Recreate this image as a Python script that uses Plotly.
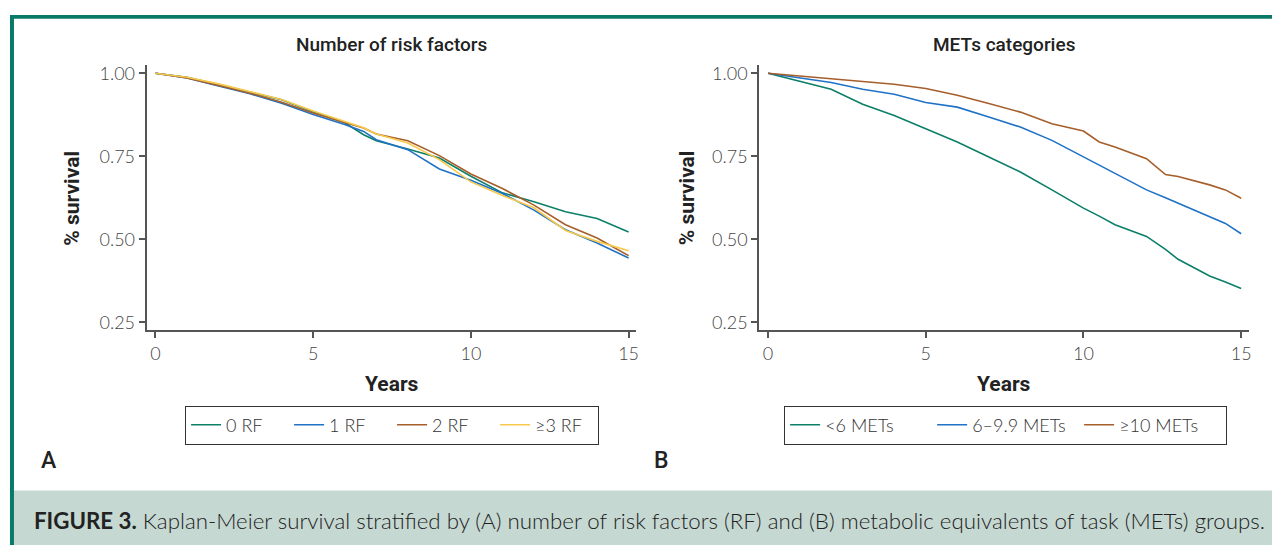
import plotly.graph_objects as go

# ---------------- data ----------------
years = [0, 1, 2, 3, 4, 5, 6, 6.6, 7, 8, 9, 10, 11, 12, 13, 14, 15]

rf_labels = ["0 RF", "1 RF", "2 RF", "≥3 RF"]
rf0 = [1.000, 0.988, 0.966, 0.944, 0.920, 0.884, 0.851, 0.815, 0.797, 0.772, 0.745, 0.690, 0.640, 0.613, 0.583, 0.563, 0.522]
rf1 = [1.000, 0.986, 0.962, 0.938, 0.910, 0.876, 0.846, 0.825, 0.800, 0.770, 0.712, 0.678, 0.638, 0.588, 0.529, 0.489, 0.444]
rf2 = [1.000, 0.986, 0.963, 0.940, 0.913, 0.880, 0.852, 0.835, 0.817, 0.797, 0.752, 0.697, 0.653, 0.603, 0.544, 0.504, 0.451]
rf3 = [1.000, 0.988, 0.968, 0.945, 0.921, 0.886, 0.856, 0.836, 0.817, 0.790, 0.740, 0.673, 0.632, 0.595, 0.527, 0.494, 0.466]

met_years = [0, 1, 2, 3, 4, 5, 6, 7, 8, 9, 10, 10.5, 11, 12, 12.6, 13, 14, 14.5, 15]
met_labels = ["<6 METs", "6–9.9 METs", "≥10 METs"]
met_low = [1.000, 0.977, 0.952, 0.907, 0.873, 0.833, 0.793, 0.748, 0.703, 0.649, 0.594, 0.570, 0.544, 0.509, 0.470, 0.440, 0.390, 0.372, 0.352]
met_mid = [1.000, 0.987, 0.972, 0.952, 0.937, 0.912, 0.898, 0.868, 0.838, 0.798, 0.748, 0.724, 0.699, 0.649, 0.625, 0.609, 0.569, 0.548, 0.517]
met_high = [1.000, 0.992, 0.984, 0.977, 0.967, 0.954, 0.934, 0.909, 0.883, 0.848, 0.826, 0.793, 0.778, 0.743, 0.695, 0.689, 0.664, 0.649, 0.624]

x_ticks = [0, 5, 10, 15]
y_ticks = [0.25, 0.50, 0.75, 1.00]
y_tick_text = ["0.25", "0.50", "0.75", "1.00"]

panel_titles = ["Number of risk factors", "METs categories"]
caption = ("<b>FIGURE 3.</b> Kaplan-Meier survival stratified by (A) number of risk factors (RF) "
           "and (B) metabolic equivalents of task (METs) groups.")

# ---------------- styling ----------------
W, H = 1275, 547
GREEN = "#0c7f68"
BLUE = "#1f72c6"
BROWN = "#a65e2b"
YELLOW = "#f8c94a"
TEAL_FRAME = "#087a67"
AXIS = "#555555"
TXT = "#222222"


def px(x):
    return x / W


def py(y):
    return 1 - y / H


fig = go.Figure()

for lab, vals, col in zip(rf_labels, [rf0, rf1, rf2, rf3], [GREEN, BLUE, BROWN, YELLOW]):
    fig.add_trace(go.Scatter(x=years, y=vals, mode="lines", name=lab,
                             line=dict(color=col, width=1.6),
                             xaxis="x", yaxis="y", legend="legend"))

for lab, vals, col in zip(met_labels, [met_low, met_mid, met_high], [GREEN, BLUE, BROWN]):
    fig.add_trace(go.Scatter(x=met_years, y=vals, mode="lines", name=lab,
                             line=dict(color=col, width=1.6),
                             xaxis="x2", yaxis="y2", legend="legend2"))

tickfont = dict(family="Lato", size=18, color="#444444", weight=300)
common_x = dict(range=[-0.28, 15.25], tickvals=x_ticks, showline=True, linecolor=AXIS,
                linewidth=2, ticks="outside", ticklen=6, tickwidth=1.5, tickcolor=AXIS,
                showgrid=False, zeroline=False, tickfont=tickfont, fixedrange=True)
common_y = dict(range=[0.2262, 1.0238], tickvals=y_ticks, ticktext=y_tick_text, showline=True,
                linecolor=AXIS, linewidth=2, ticks="outside", ticklen=6, tickwidth=1.5,
                tickcolor=AXIS, showgrid=False, zeroline=False, tickfont=tickfont,
                fixedrange=True)

legfont = dict(family="Lato", size=18, color="#333333", weight=300)
ydom = [py(330), py(62)]
fig.update_layout(
    width=W, height=H, autosize=False,
    margin=dict(l=0, r=0, t=0, b=0),
    paper_bgcolor="white", plot_bgcolor="white",
    xaxis=dict(domain=[px(147), px(638)], anchor="y", **common_x),
    yaxis=dict(domain=ydom, anchor="x", **common_y),
    xaxis2=dict(domain=[px(761), px(1252)], anchor="y2", **common_x),
    yaxis2=dict(domain=ydom, anchor="x2", **common_y),
    legend=dict(orientation="h", x=px(393), y=py(406), xanchor="center", yanchor="top",
                bordercolor="#333333", borderwidth=1, font=legfont, entrywidth=58,
                bgcolor="white", itemclick=False, itemdoubleclick=False),
    legend2=dict(orientation="h", x=px(1008), y=py(406), xanchor="center", yanchor="top",
                 bordercolor="#333333", borderwidth=1, font=legfont, entrywidth=102,
                 bgcolor="white", itemclick=False, itemdoubleclick=False),
    showlegend=True,
)

shapes = [
    dict(type="rect", xref="paper", yref="paper", x0=px(12), x1=1, y0=0, y1=py(492),
         fillcolor="#c6d8d2", line=dict(width=0), layer="below"),
    dict(type="rect", xref="paper", yref="paper", x0=px(10), x1=1, y0=py(15), y1=py(11),
         fillcolor=TEAL_FRAME, line=dict(width=0)),
    dict(type="rect", xref="paper", yref="paper", x0=px(10), x1=px(14), y0=0, y1=py(11),
         fillcolor=TEAL_FRAME, line=dict(width=0)),
]
fig.update_layout(shapes=shapes)

title_font = dict(family="Roboto", size=19, color=TXT, weight=500)
axis_title_font = dict(family="Roboto", size=21, color=TXT, weight="bold")
ann = []
for cx, t in zip([392.5, 1006.5], panel_titles):
    ann.append(dict(text=t, x=px(cx), y=py(41), xref="paper", yref="paper",
                    showarrow=False, font=title_font, xanchor="center", yanchor="middle"))
    ann.append(dict(text="Years", x=px(cx), y=py(384), xref="paper", yref="paper",
                    showarrow=False, font=axis_title_font, xanchor="center", yanchor="middle"))
for sx in [72, 688]:
    ann.append(dict(text="% survival", x=px(sx), y=py(196), xref="paper", yref="paper",
                    showarrow=False, font=axis_title_font, textangle=-90,
                    xanchor="center", yanchor="middle"))
for lx, lab in [(49, "A"), (663, "B")]:
    ann.append(dict(text=lab, x=px(lx), y=py(462), xref="paper", yref="paper",
                    showarrow=False, font=dict(family="Roboto", size=23, color=TXT, weight=500),
                    xanchor="center", yanchor="middle"))
ann.append(dict(text=caption, x=px(32), y=py(522), xref="paper", yref="paper",
                showarrow=False, font=dict(family="Lato", size=22.3, color=TXT, weight=300),
                xanchor="left", yanchor="middle"))
fig.update_layout(annotations=ann)

fig.write_html("out.html", config={"displayModeBar": False},
               post_script="document.body.style.margin='0';")
